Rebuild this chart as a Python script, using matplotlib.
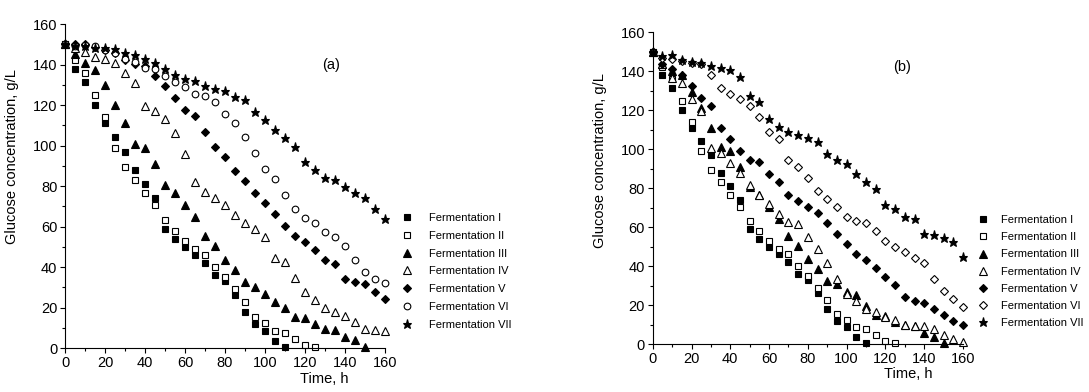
import matplotlib
matplotlib.use("Agg")
import matplotlib.pyplot as plt
from matplotlib.ticker import MultipleLocator

plt.rcParams["font.family"] = ["Liberation Sans", "DejaVu Sans"]

TIME = list(range(0, 165, 5))  # h, sampling every 5 h
LABELS = ["Fermentation I", "Fermentation II", "Fermentation III", "Fermentation IV",
          "Fermentation V", "Fermentation VI", "Fermentation VII"]

# glucose, g/L
F1 = [150, 138, 131.5, 120, 111, 104, 97, 88, 81, 74, 59, 54, 50, 46, 42, 36, 33, 26,
      18, 12, 8.5, 3.5, 0.5]
F2 = [150, 142, 136, 125, 114, 99, 89.5, 83, 76.5, 70.5, 63, 58, 53, 49, 46, 40, 35, 29,
      22.5, 15.5, 12.5, 8.5, 7.5, 4.5, 1.5, 0.5]

A3 = [150, 145, 141, 137.5, 130, 120, 111, 101, 99, 91, 80.5, 76.5, 70.5, 64.5, 55.5, 50.5,
      43.5, 38.5, 32.5, 30.3, 26.5, 22.5, 19.6, 15.3, 14.7, 12, 9.3, 8.7, 5.5, 3.8, 0.6]
A4 = [150, 148, 146, 143.5, 142.5, 141, 136, 131, 119.5, 117, 113, 106, 95.8, 82, 77, 74,
      70.6, 65.7, 61.6, 59, 54.8, 44.5, 42.6, 34.5, 27.5, 23.7, 19.8, 17.8, 15.8, 12.8, 9.5, 9, 8.5]
A5 = [150, 150, 150, 148.8, 147, 145.5, 142, 140.5, 139.5, 134.3, 129.5, 123.6, 117.4, 114.6,
      106.5, 99.4, 94.5, 87.4, 82.7, 76.4, 71.4, 66.4, 60.3, 55.4, 52.2, 48.4, 43.5, 41.5, 34,
      32.4, 31.6, 27.5, 24.2]
A6 = [150, 149, 149.5, 149, 147, 145.8, 142.5, 141.4, 138.4, 137.6, 134.3, 131.5, 128.7, 125.3,
      124.4, 121.6, 115.6, 111.3, 104.3, 96.5, 88.5, 83.4, 75.6, 68.6, 64, 61.6, 57.4, 55, 50.5,
      43.5, 37.4, 34, 32]
A7 = [150, 149, 149, 148, 148, 147.7, 145.5, 144.7, 142.5, 140.9, 137.8, 134.8, 132.8, 131.9,
      129.4, 127.7, 127, 123.8, 122.7, 116.7, 112.6, 107.5, 103.5, 99.4, 92, 87.9, 83.8, 83,
      79.7, 76.4, 73.9, 68.6, 63.7]

B3 = [150, 144, 140, 138, 129.6, 121, 110.8, 100.9, 99, 91.1, 80.8, 76.5, 70.5, 64, 55.5, 50.5,
      43.5, 38.4, 32.6, 30.7, 26.9, 25.2, 19.5, 14.9, 14.6, 11.5, 9.8, 9.2, 5.8, 3.4, 0.4]
B4 = [150, 144, 136.5, 134, 125.8, 119.6, 100.5, 98, 93.1, 87.6, 81.5, 76.5, 71.7, 67, 62.7,
      61.5, 54.8, 48.7, 41.4, 33.3, 25.7, 22.2, 17.8, 16.6, 13.7, 12.3, 9.8, 9.2, 9.2, 7.5, 4.6,
      2.4, 0.8]
B5 = [150, 144, 141, 138.2, 132.5, 126.5, 122.4, 111.1, 105.1, 99.1, 94.5, 93.3, 87.1, 83.4,
      76.5, 73.6, 70.2, 67.1, 62, 56.3, 51.4, 46.2, 43.2, 39.2, 34.2, 30.3, 24.3, 22.2, 21.2, 18,
      14.9, 12, 9.8]
B6 = [150, 146.7, 146.2, 145.3, 144.1, 143.6, 138.2, 131.3, 128.2, 125.8, 122.4, 116.3, 108.7,
      105.3, 94.3, 91, 85, 78.6, 74.3, 70.5, 65.4, 63.2, 62.3, 58.2, 53.1, 50, 47.1, 44.3, 41.4,
      33.3, 27.4, 23.2, 19.2]
B7 = [150, 148, 148.5, 146, 145, 144.5, 142.5, 141.5, 140.5, 137, 127.5, 124.5, 115.5, 111.5,
      109, 107.3, 106, 103.5, 97.4, 94.5, 92.3, 87.3, 83.4, 79.4, 71.3, 69.3, 65.4, 64.2, 56.3,
      55.9, 54.3, 52.2, 44.5]

# marker, filled?, size
STYLE_A = [("s", True, 4.5), ("s", False, 4.5), ("^", True, 5.5), ("^", False, 5.5),
           ("D", True, 4.5), ("o", False, 4.8), ("*", True, 6.5)]
STYLE_B = [("s", True, 4.5), ("s", False, 4.5), ("^", True, 5.5), ("^", False, 5.5),
           ("D", True, 4.5), ("D", False, 4.5), ("*", True, 6.5)]

fig = plt.figure(figsize=(10.89, 3.92), dpi=100)
ax_a = fig.add_axes([0.0597, 0.1122, 0.2938, 0.8265])
ax_b = fig.add_axes([0.5994, 0.1224, 0.2849, 0.7950])


def draw(ax, series, styles, tag, tag_xy, legend_xy, textpad, spacing, xlab_x, ylab_x):
    for ys, (m, filled, ms), lab in zip(series, styles, LABELS):
        ax.plot(TIME[:len(ys)], ys, ls="none", marker=m, ms=ms, mec="black", mew=0.8,
                mfc="black" if filled else "white", label=lab, clip_on=False)
    ax.set_xlim(0, 160)
    ax.set_ylim(0, 160)
    ax.xaxis.set_major_locator(MultipleLocator(20))
    ax.xaxis.set_minor_locator(MultipleLocator(10))
    ax.yaxis.set_major_locator(MultipleLocator(20))
    ax.yaxis.set_minor_locator(MultipleLocator(10))
    for s in ("top", "right"):
        ax.spines[s].set_visible(False)
    for s in ("left", "bottom"):
        ax.spines[s].set_linewidth(0.8)
    ax.tick_params(which="major", direction="out", length=3.5, width=0.8, labelsize=10.5, pad=2)
    ax.tick_params(which="minor", direction="out", length=2, width=0.8)
    ax.set_xlabel("Time, h", fontsize=10.5, labelpad=0)
    ax.xaxis.set_label_coords(xlab_x, -0.075)
    ax.set_ylabel("Glucose concentration, g/L", fontsize=10.5)
    ax.yaxis.set_label_coords(ylab_x, 0.59)
    ax.text(tag_xy[0], tag_xy[1], tag, transform=ax.transAxes, fontsize=10.5,
            ha="center", va="center")
    ax.legend(loc="upper left", bbox_to_anchor=legend_xy, bbox_transform=fig.transFigure,
              frameon=False, fontsize=8, handlelength=1.0, handletextpad=textpad,
              labelspacing=spacing, borderpad=0, borderaxespad=0, numpoints=1)


draw(ax_a, [F1, F2, A3, A4, A5, A6, A7], STYLE_A, "(a)", (0.83, 0.873),
     (401.5 / 1089, 1 - 213 / 392), 1.5, 0.70, 0.81, -0.145)
draw(ax_b, [F1, F2, B3, B4, B5, B6, B7], STYLE_B, "(b)", (0.804, 0.888),
     (977.5 / 1089, 1 - 215 / 392), 1.15, 0.65, 0.825, -0.148)

fig.savefig("out.png", dpi=100)
